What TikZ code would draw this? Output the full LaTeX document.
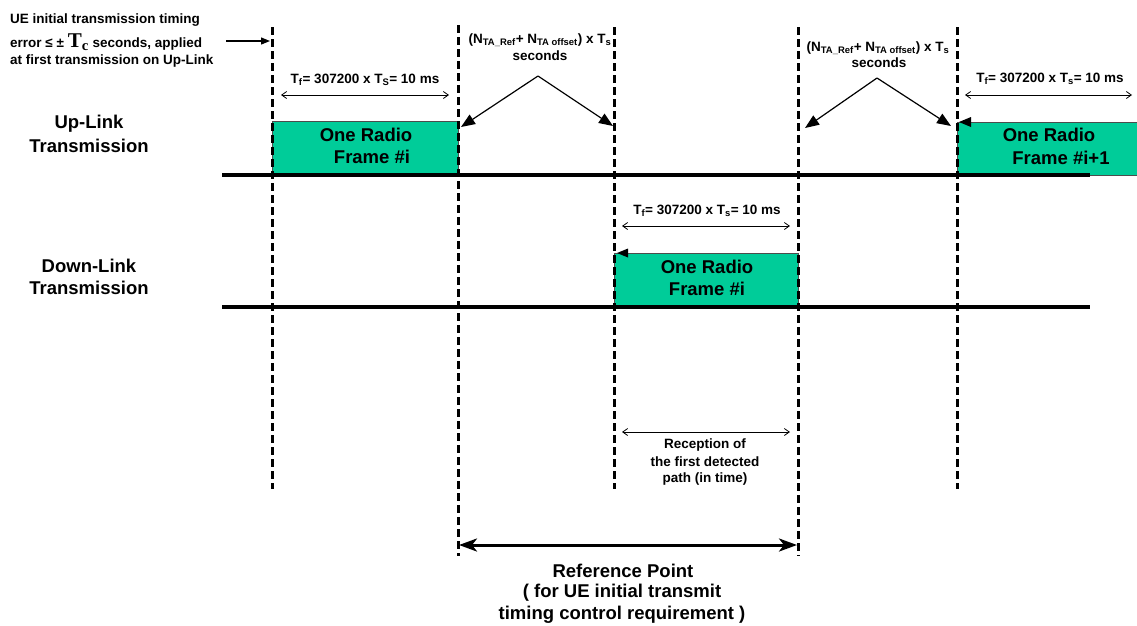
\documentclass[tikz,border=0pt]{standalone}
\usepackage{fontspec}
\setmainfont{Liberation Sans}
\newfontfamily\serifbf{Liberation Serif}
\usetikzlibrary{arrows.meta}
\definecolor{radiogreen}{RGB}{0,204,153}
\newcommand\sbs[1]{\textsubscript{#1}}
\begin{document}
\begin{tikzpicture}[x=1pt,y=-1pt,
  every node/.style={font=\bfseries\fontsize{13.5}{15}\selectfont, inner sep=0pt},
  big/.style={font=\bfseries\fontsize{18.5}{21}\selectfont},
  vdash/.style={line width=3pt, dash pattern=on 8pt off 4pt},
  axisline/.style={line width=4pt},
  radioframe/.style={fill=radiogreen, draw=black!70, line width=0.8pt},
  dimarrow/.style={line width=0.8pt, {Straight Barb[length=5pt,width=7pt]}-{Straight Barb[length=5pt,width=7pt]}},
  pointer/.style={line width=1.2pt, -{Triangle[length=14pt,width=11pt]}},
  smallptr/.style={line width=1.2pt, -{Triangle[length=9pt,width=7pt]}},
  refarrow/.style={line width=3pt, {Stealth[length=18pt,width=13pt,inset=5pt]}-{Stealth[length=18pt,width=13pt,inset=5pt]}}
]
\useasboundingbox (0,0) rectangle (1137,625);

% radio frames
\draw[radioframe] (272,121) rectangle (458,175);
\draw[radioframe] (614,253) rectangle (798,307);
\draw[radioframe] (957,122) rectangle (1142,175);

% corner markers
\fill (617,253) -- ++(11,-4.5) -- ++(0,9) -- cycle;
\fill (959,122) -- ++(12,-5) -- ++(0,10) -- cycle;

% time axes
\coordinate (ulL) at (222,175); \coordinate (ulR) at (1090,175);
\coordinate (dlL) at (222,307); \coordinate (dlR) at (1090,307);
\draw[axisline] (ulL) -- (ulR);
\draw[axisline] (dlL) -- (dlR);

% dashed verticals
\coordinate (v1t) at (272,27);  \coordinate (v1b) at (272,489);
\coordinate (v2t) at (458,25);  \coordinate (v2b) at (458,556);
\coordinate (v3t) at (614,27);  \coordinate (v3b) at (614,489);
\coordinate (v4t) at (798,27);  \coordinate (v4b) at (798,556);
\coordinate (v5t) at (957,27);  \coordinate (v5b) at (957,489);
\draw[vdash] (v1t) -- (v1b);
\draw[vdash] (v2t) -- (v2b);
\draw[vdash] (v3t) -- (v3b);
\draw[vdash] (v4t) -- (v4b);
\draw[vdash] (v5t) -- (v5b);

% row labels
\node[big] (ul1) at (89,124) {Up-Link};
\node[big] (ul2) at (89,146) {Transmission};
\node[big] (dl1) at (89,266) {Down-Link};
\node[big] (dl2) at (89,288) {Transmission};

% frame texts
\node[big] (f1a) at (366,135) {One Radio};
\node[big] (f1b) at (372,157) {Frame \#i};
\node[big] (f2a) at (707,267) {One Radio};
\node[big] (f2b) at (707,289) {Frame \#i};
\node[big] (f3a) at (1049,135) {One Radio};
\node[big] (f3b) at (1061,158) {Frame \#i+1};

% UE annotation
\node[anchor=west] (ue1) at (10,20) {UE initial transmission timing};
\node[anchor=west] (ue2) at (10,42) {error ≤ ± {\serifbf\bfseries\fontsize{21}{21}\selectfont T\sbs{c}} seconds, applied};
\node[anchor=west] (ue3) at (10,61) {at first transmission on Up-Link};
\coordinate (ueS) at (226,41); \coordinate (ueE) at (270,41);
\draw[smallptr] (ueS) -- (ueE);

% T_f dimensions
\node (tf1) at (365,80) {T\sbs{f}= 307200 x T\sbs{S}= 10 ms};
\coordinate (tf1l) at (281,95); \coordinate (tf1r) at (449,95);
\draw[dimarrow] (tf1l) -- (tf1r);
\node (tf2) at (1050,79) {T\sbs{f}= 307200 x T\sbs{s}= 10 ms};
\coordinate (tf2l) at (965,95); \coordinate (tf2r) at (1132,95);
\draw[dimarrow] (tf2l) -- (tf2r);
\node (tf3) at (707,211) {T\sbs{f}= 307200 x T\sbs{s}= 10 ms};
\coordinate (tf3l) at (622,226); \coordinate (tf3r) at (790,226);
\draw[dimarrow] (tf3l) -- (tf3r);

% N_TA annotations
\node (nta1) at (540,40) {(N\sbs{TA\_Ref}+ N\sbs{TA offset}) x T\sbs{s}};
\node (sec1) at (540,56) {seconds};
\coordinate (ap1) at (538,76);
\coordinate (p1l) at (461,127); \coordinate (p1r) at (613,126);
\draw[pointer] (ap1) -- (p1l);
\draw[pointer] (ap1) -- (p1r);
\node (nta2) at (878,48) {(N\sbs{TA\_Ref}+ N\sbs{TA offset}) x T\sbs{s}};
\node (sec2) at (879,63) {seconds};
\coordinate (ap2) at (877,78);
\coordinate (p2l) at (805,128); \coordinate (p2r) at (951,126);
\draw[pointer] (ap2) -- (p2l);
\draw[pointer] (ap2) -- (p2r);

% reception
\coordinate (rcl) at (622,432); \coordinate (rcr) at (790,432);
\draw[dimarrow] (rcl) -- (rcr);
\node (rc1) at (705,445) {Reception of};
\node (rc2) at (705,462) {the first detected};
\node (rc3) at (705,479) {path (in time)};

% reference point
\coordinate (rpl) at (459,545); \coordinate (rpr) at (797,545);
\draw[refarrow] (rpl) -- (rpr);
\node[big] (rp1) at (623,571) {Reference Point};
\node[big] (rp2) at (622,593) {( for UE initial transmit};
\node[big] (rp3) at (622,615) {timing control requirement )};
\end{tikzpicture}
\end{document}
